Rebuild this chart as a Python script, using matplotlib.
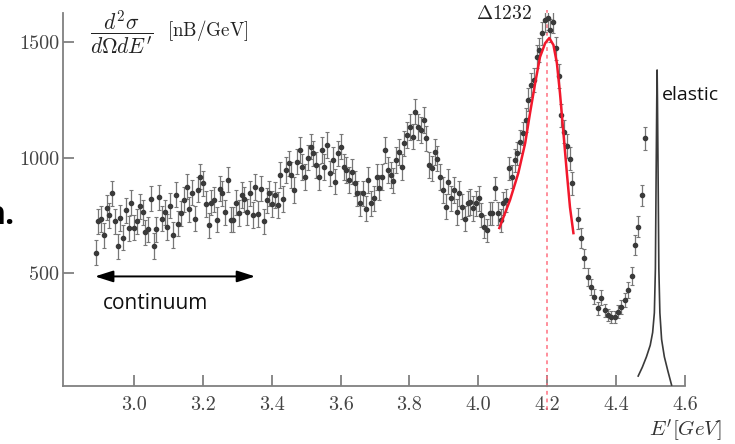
#!/usr/bin/env python3
"""Inclusive e-p spectrum: continuum, Delta(1232) resonance and elastic peak."""
import matplotlib
matplotlib.use("Agg")
import matplotlib.pyplot as plt
import numpy as np

# measured d2sigma/dOmega dE' [nB/GeV], 8 MeV bins from 2.889 GeV
E_START = 2.889
E_STEP = 0.008
XS_MAIN = [
    590, 725, 735, 664, 784, 750, 845, 725, 617, 740,
    655, 772, 694, 806, 698, 725, 789, 763, 677, 690,
    823, 619, 690, 828, 737, 763, 700, 793, 665, 840,
    715, 759, 819, 875, 776, 849, 737, 862, 918, 889,
    800, 707, 806, 819, 732, 866, 845, 763, 905, 732,
    732, 806, 760, 838, 820, 766, 845, 752, 873, 756,
    866, 725, 815, 845, 800, 838, 795, 924, 822, 946,
    975, 924, 860, 982, 1032, 960, 917, 1000, 1047, 1018,
    968, 917, 1032, 960, 1054, 932, 990, 896, 1018, 1047,
    960, 946, 903, 939, 889, 845, 802, 845, 780, 903,
    802, 824, 917, 870, 917, 1032, 946, 925, 900, 989,
    1025, 960, 1061, 1097, 1133, 1090, 1198, 1133, 1118, 1162,
    1083, 968, 953, 1025, 996, 917, 860, 788, 896, 824,
    860, 766, 845, 788, 737, 802, 809, 781, 802, 824,
    752, 701, 687, 759, 759, 867, 759, 730, 802, 816,
    953, 917, 989, 1018, 1068, 1104, 1162, 1250, 1313, 1335,
    1435, 1464, 1536, 1594, 1601, 1550, 1586, 1471, 1352, 1183,
    1111, 1050, 996, 889,
]
ERR_CONT = 55   # up to ~4.0 GeV
ERR_PEAK = 50
N_CONT = 140

# dip between Delta and elastic, ~10 MeV bins
E_DIP_START = 4.288
E_DIP_STEP = 0.0098
XS_DIP = [737, 653, 565, 485, 442, 399, 349, 396, 342, 320, 313,
          313, 334, 356, 385, 428, 488, 622, 701, 838, 1083]
ERR_DIP = [45, 45, 40, 38, 35, 33, 28, 33, 28, 26, 26,
           26, 28, 30, 32, 35, 38, 42, 45, 45, 50]

# Breit-Wigner fit of the Delta
FIT_E = [4.061, 4.092, 4.116, 4.136, 4.150, 4.165, 4.179, 4.194, 4.206,
         4.218, 4.228, 4.237, 4.247, 4.257, 4.266, 4.276]
FIT_XS = [696, 817, 933, 1063, 1192, 1322, 1434, 1494, 1516,
          1486, 1408, 1278, 1106, 933, 786, 674]

# elastic line (radiative tail, narrow peak)
EL_E = [4.464, 4.476, 4.488, 4.499, 4.506, 4.511, 4.514, 4.516, 4.518, 4.519,
        4.520, 4.522, 4.524, 4.527, 4.532, 4.540, 4.550, 4.561]
EL_XS = [57, 95, 140, 190, 245, 330, 520, 900, 1250, 1378,
         1250, 900, 520, 330, 215, 140, 80, 18]

DELTA_E = 4.2
ARROW_E = (2.887, 3.352)
ARROW_XS = 487

plt.rcParams["mathtext.fontset"] = "cm"
plt.rcParams["axes.unicode_minus"] = False


def main() -> None:
    fig = plt.figure(figsize=(7.35, 4.44), dpi=100)
    ax = fig.add_axes([0.0861, 0.1306, 0.8459, 0.8401])

    e_main = E_START + E_STEP * np.arange(len(XS_MAIN))
    err_main = [ERR_CONT] * N_CONT + [ERR_PEAK] * (len(XS_MAIN) - N_CONT)
    e_dip = E_DIP_START + E_DIP_STEP * np.arange(len(XS_DIP))

    pts = dict(fmt="o", ms=3.0, color="#3a3a3a", ecolor="#777777",
               elinewidth=0.9, capsize=1.6, capthick=0.8, zorder=3)
    ax.errorbar(e_main, XS_MAIN, yerr=err_main, **pts)
    ax.errorbar(e_dip, XS_DIP, yerr=ERR_DIP, **pts)

    ax.plot(FIT_E, FIT_XS, color="#f2182c", lw=1.8, zorder=4)
    ax.plot(EL_E, EL_XS, color="#3a3a3a", lw=1.2, zorder=4)
    ax.plot([DELTA_E, DELTA_E], [-90, 1637], color="#ff7080", lw=1.1,
            ls=(0, (2.5, 2.5)), clip_on=False, zorder=2)

    ax.annotate("", xy=(ARROW_E[1], ARROW_XS), xytext=(ARROW_E[0], ARROW_XS),
                arrowprops=dict(arrowstyle="<|-|>,head_length=1.1,head_width=0.35",
                                color="black", lw=1.4, shrinkA=0, shrinkB=0))
    ax.text(2.911, 368, "continuum", family="Open Sans", fontsize=15,
            ha="left", va="center", color="#111111")
    ax.text(4.533, 1270, "elastic", family="Open Sans", fontsize=14,
            ha="left", va="center", color="#111111")
    ax.text(0.7097, 0.9987, r"$\Delta1232$", transform=ax.transAxes,
            fontsize=14, ha="center", va="center", clip_on=False, color="#222222")
    # axis title sits inside the frame, top left
    ax.text(0.043, 0.949, r"$\dfrac{d^2\sigma}{d\Omega dE'}$",
            transform=ax.transAxes, fontsize=15.5, ha="left", va="center",
            color="#222222")
    ax.text(0.1668, 0.952, r"$\mathrm{[nB/GeV]}$",
            transform=ax.transAxes, fontsize=13.7, ha="left", va="center",
            color="#222222")
    fig.text(0.982, 0.029, r"$E'[GeV]$", fontsize=15, ha="right", va="center",
             color="#333333")
    fig.text(15 / 735, 0.4955, "n.", family="Open Sans", fontsize=23,
             weight="bold", ha="right", va="baseline")

    ax.set_xlim(2.795, 4.6)
    ax.set_ylim(14, 1624)
    ax.set_xticks([3.0, 3.2, 3.4, 3.6, 3.8, 4.0, 4.2, 4.4, 4.6])
    ax.set_yticks([500, 1000, 1500])
    ax.set_xticklabels([f"{t:.1f}" for t in ax.get_xticks()])
    for s in ("top", "right"):
        ax.spines[s].set_visible(False)
    for s in ("left", "bottom"):
        ax.spines[s].set_color("#808080")
        ax.spines[s].set_linewidth(1.3)
    ax.tick_params(direction="in", length=8, width=1.3, color="#808080",
                   labelcolor="#444444", labelsize=14.5)
    ax.tick_params(axis="x", pad=7)
    ax.tick_params(axis="y", pad=3)
    for lab in ax.get_xticklabels() + ax.get_yticklabels():
        lab.set_family("cmr10")

    fig.savefig("out.png", dpi=100)
    plt.close(fig)


if __name__ == "__main__":
    main()
